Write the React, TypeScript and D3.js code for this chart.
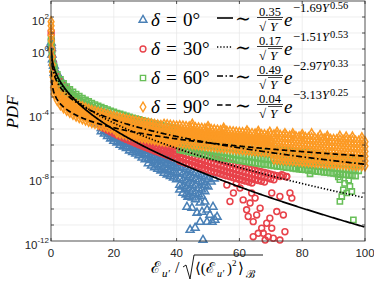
import React from "react";
import * as d3 from "d3";

const W = 374;
const H = 283;
const M = { left: 51, right: 365, top: 1, bottom: 241 };

// tick values
const xTicks = [0, 20, 40, 60, 80, 100];
const yLabelExps = [2, 0, -4, -8, -12];
const yGridExps = d3.range(-11, 3);

// series: rows of [x, log10(pdf) values ...]
const blueRows = [
  [0.05, 0.4, 0.2], [0.15, 0.05], [0.3, -0.35], [0.45, -0.65], [0.6, -0.85], [0.8, -1.05],
  [1, -1.05, -1.3, -1.5], [2, -1.55, -1.8, -2.0], [3, -1.9, -2.15, -2.35], [4, -2.2, -2.45, -2.65],
  [5, -2.45, -2.7, -2.9], [6, -2.7, -2.95, -3.15], [7, -2.9, -3.15, -3.4], [8, -3.1, -3.35, -3.55],
  [9, -3.3, -3.55, -3.75], [10, -3.45, -3.7, -3.95], [11, -3.65, -3.9, -4.1], [12, -3.8, -4.05, -4.25],
  [13, -3.95, -4.2, -4.4], [14, -4.1, -4.35, -4.6], [15, -4.25, -4.5, -4.7],
  [16, -4.45, -4.7, -4.95, -5.15], [17, -4.6, -4.85, -5.1, -5.3], [18, -4.7, -4.95, -5.2, -5.45],
  [19, -4.85, -5.1, -5.35, -5.6], [20, -4.95, -5.2, -5.5, -5.75], [21, -5.1, -5.35, -5.6, -5.85],
  [22, -5.2, -5.45, -5.75, -6.0], [23, -5.3, -5.6, -5.85, -6.1], [24, -5.45, -5.7, -5.95, -6.2],
  [25, -5.55, -5.8, -6.1, -6.35], [26, -5.65, -5.9, -6.2, -6.45], [27, -5.75, -6.0, -6.3, -6.55],
  [28, -5.85, -6.1, -6.4, -6.65], [29, -5.95, -6.25, -6.5, -6.8], [30, -6.05, -6.35, -6.6, -6.9],
  [31, -6.25, -6.55, -6.85, -7.15], [32, -6.35, -6.65, -6.95, -7.3], [33, -6.45, -6.75, -7.05, -7.4],
  [34, -6.55, -6.85, -7.2, -7.5], [35, -6.65, -6.95, -7.3, -7.6], [36, -6.75, -7.05, -7.4, -7.75],
  [37, -6.85, -7.15, -7.5, -7.85], [38, -6.95, -7.25, -7.6, -7.95], [39, -7.05, -7.35, -7.7, -8.05],
  [40, -7.15, -7.45, -7.8, -8.15], [41, -7.3, -7.7, -8.1, -8.5, -8.8], [42, -7.4, -7.8, -8.2, -8.6, -9.0],
  [43, -7.5, -7.9, -8.3, -8.7, -9.1], [44, -7.6, -8.0, -8.4, -8.8, -9.2], [45, -7.7, -8.1, -8.5, -8.9, -9.3],
  [46, -7.75, -8.15, -8.55, -9.0, -9.4], [47, -7.85, -8.25, -8.7, -9.1], [48, -7.95, -8.35, -8.8, -9.2],
  [49, -8.05, -8.5, -8.9], [50, -8.15, -8.6], [51, -8.3], [52, -8.1],
  [43.6, -9.24], [44.9, -9.93], [46.5, -10.24], [48.1, -10.18], [49.7, -10.05], [50.6, -10.37],
  [47.5, -10.81], [49.7, -10.81], [44.3, -11.31], [48.4, -11.94], [45.9, -11.18], [51.3, -10.81],
  [52.2, -10.68], [52.9, -10.49], [43.3, -9.87], [47.5, -9.61], [49.0, -9.55], [51.6, -9.87],
];

const redRows = [
  [0.05, 1.1, 0.9], [0.12, 0.6], [0.2, 0.2], [0.3, -0.15], [0.45, -0.5], [0.6, -0.8], [0.8, -1.1],
  [1, -1.3, -1.55, -1.75], [2, -1.72, -1.97, -2.17], [3, -2.03, -2.28, -2.48], [4, -2.3, -2.55, -2.75],
  [5, -2.5, -2.75, -2.95], [6, -2.7, -2.95, -3.15], [7, -2.88, -3.13, -3.33], [8, -3.05, -3.3, -3.5],
  [9, -3.2, -3.45, -3.65], [10, -3.35, -3.6, -3.8], [11, -3.48, -3.73, -3.93], [12, -3.6, -3.85, -4.05],
  [13, -3.72, -3.97, -4.17], [14, -3.85, -4.1, -4.3], [15, -3.96, -4.21, -4.41],
  [16, -4.12, -4.37, -4.62, -4.87], [17, -4.22, -4.47, -4.72, -4.97], [18, -4.33, -4.58, -4.83, -5.08],
  [19, -4.43, -4.68, -4.93, -5.18], [20, -4.53, -4.78, -5.03, -5.28], [21, -4.62, -4.87, -5.12, -5.37],
  [22, -4.72, -4.97, -5.22, -5.47], [23, -4.81, -5.06, -5.31, -5.56], [24, -4.9, -5.15, -5.4, -5.65],
  [25, -4.98, -5.23, -5.48, -5.73], [26, -5.07, -5.32, -5.57, -5.82], [27, -5.15, -5.4, -5.65, -5.9],
  [28, -5.23, -5.48, -5.73, -5.98], [29, -5.31, -5.56, -5.81, -6.06], [30, -5.39, -5.64, -5.89, -6.14],
  [31, -5.47, -5.72, -5.97, -6.22], [32, -5.54, -5.79, -6.04, -6.29], [33, -5.62, -5.87, -6.12, -6.37],
  [34, -5.69, -5.94, -6.19, -6.44], [35, -5.76, -6.01, -6.26, -6.51], [36, -5.83, -6.08, -6.33, -6.58],
  [37, -5.9, -6.15, -6.4, -6.65], [38, -5.97, -6.22, -6.47, -6.72], [39, -6.04, -6.29, -6.54, -6.79],
  [40, -6.1, -6.35, -6.6, -6.85], [41, -6.17, -6.47, -6.77, -7.02], [42, -6.23, -6.53, -6.83, -7.08],
  [43, -6.3, -6.6, -6.9, -7.15], [44, -6.36, -6.66, -6.96, -7.21], [45, -6.43, -6.73, -7.03, -7.28],
  [46, -6.49, -6.79, -7.09, -7.34], [47, -6.55, -6.85, -7.15, -7.4], [48, -6.61, -6.91, -7.21, -7.46],
  [49, -6.67, -6.97, -7.27, -7.52], [50, -6.73, -7.03, -7.33, -7.58], [51, -6.79, -7.09, -7.39, -7.64],
  [52, -6.85, -7.15, -7.45, -7.7], [53, -6.9, -7.2, -7.5, -7.75], [54, -6.96, -7.26, -7.56, -7.81],
  [55, -7.02, -7.32, -7.62, -7.87], [56, -7.08, -7.38, -7.68, -7.93], [57, -7.13, -7.43, -7.73, -7.98],
  [58, -7.19, -7.49, -7.79, -8.04], [59, -7.24, -7.54, -7.84, -8.09], [60, -7.3, -7.6, -7.9, -8.15],
  [61, -7.36, -7.66, -7.96, -8.21], [62, -7.41, -7.71, -8.01, -8.26], [63, -7.46, -7.76, -8.06, -8.31],
  [64, -7.52, -7.82, -8.12, -8.37], [65, -7.57, -7.87, -8.17], [66, -7.62, -7.92, -8.22],
  [67, -7.67, -7.97, -8.27], [68, -7.72, -8.02, -8.32], [69, -7.77, -8.07], [70, -7.82, -8.12],
  [71, -7.87, -8.17], [72, -7.92], [73, -7.97], [74, -7.9], [75, -8.0],
  [47.5, -7.23], [57.0, -9.53], [58.1, -9.0], [60.2, -8.69], [61.2, -9.43], [62.3, -10.05],
  [62.8, -10.47], [63.4, -9.63], [64.4, -10.79], [64.4, -11.73], [65.5, -10.37], [66.6, -9.95],
  [67.1, -11.2], [67.6, -11.52], [68.7, -10.89], [69.2, -11.73], [69.7, -10.58], [70.3, -11.2],
  [70.8, -11.83], [71.9, -10.16], [72.9, -11.94], [74.0, -10.37], [74.5, -11.42], [76.1, -9.0],
  [76.7, -9.32], [72.9, -9.22], [70.3, -9.0], [65.0, -9.32], [73.5, -7.86], [75.1, -7.96],
  [63.9, -9.0], [66.0, -11.52], [68.2, -11.94], [59.0, -8.4], [56.0, -8.5],
];

const greenRows = [
  [0.05, 0.6, 0.45], [0.15, 0.15], [0.3, -0.3], [0.5, -0.75], [0.7, -1.05], [0.85, -1.3],
  [1, -1.1, -1.35, -1.6, -1.8], [2, -1.58, -1.83, -2.08, -2.28], [3, -1.9, -2.15, -2.4, -2.6],
  [4, -2.15, -2.4, -2.65, -2.85], [5, -2.35, -2.6, -2.85, -3.05], [6, -2.53, -2.78, -3.03, -3.23],
  [7, -2.68, -2.93, -3.18, -3.38], [8, -2.82, -3.07, -3.32, -3.52], [9, -2.95, -3.2, -3.45, -3.65],
  [10, -3.07, -3.32, -3.57, -3.77], [11, -3.18, -3.43, -3.68, -3.88], [12, -3.28, -3.53, -3.78, -3.98],
  [13, -3.38, -3.63, -3.88, -4.08], [14, -3.47, -3.72, -3.97, -4.17], [15, -3.55, -3.8, -4.05, -4.25],
  [16, -3.63, -3.88, -4.13, -4.33], [17, -3.71, -3.96, -4.21, -4.41], [18, -3.79, -4.04, -4.29, -4.49],
  [19, -3.86, -4.11, -4.36, -4.56], [20, -3.93, -4.18, -4.43, -4.63], [21, -4.0, -4.25, -4.5, -4.7],
  [22, -4.06, -4.31, -4.56, -4.76], [23, -4.12, -4.37, -4.62, -4.82], [24, -4.18, -4.43, -4.68, -4.88],
  [25, -4.24, -4.49, -4.74, -4.94], [26, -4.3, -4.55, -4.8, -5.0], [27, -4.35, -4.6, -4.85, -5.05],
  [28, -4.4, -4.65, -4.9, -5.1], [29, -4.46, -4.71, -4.96, -5.16], [30, -4.51, -4.76, -5.01, -5.21],
  [31, -4.56, -4.81, -5.06, -5.26], [32, -4.61, -4.86, -5.11, -5.31], [33, -4.66, -4.91, -5.16, -5.36],
  [34, -4.7, -4.95, -5.2, -5.4], [35, -4.75, -5.0, -5.25, -5.45], [36, -4.8, -5.05, -5.3, -5.5],
  [37, -4.84, -5.09, -5.34, -5.54], [38, -4.88, -5.13, -5.38, -5.58], [39, -4.93, -5.18, -5.43, -5.63],
  [40, -4.97, -5.22, -5.47, -5.67], [41, -5.21, -5.61, -5.96, -6.31], [42, -5.25, -5.65, -6.0, -6.35],
  [43, -5.29, -5.69, -6.04, -6.39], [44, -5.33, -5.73, -6.08, -6.43], [45, -5.37, -5.77, -6.12, -6.47],
  [46, -5.41, -5.81, -6.16, -6.51], [47, -5.45, -5.85, -6.2, -6.55], [48, -5.48, -5.88, -6.23, -6.58],
  [49, -5.52, -5.92, -6.27, -6.62], [50, -5.55, -5.95, -6.3, -6.65], [51, -5.59, -5.99, -6.34, -6.69],
  [52, -5.62, -6.02, -6.37, -6.72], [53, -5.65, -6.05, -6.4, -6.75], [54, -5.69, -6.09, -6.44, -6.79],
  [55, -5.72, -6.12, -6.47, -6.82], [56, -5.75, -6.15, -6.5, -6.85], [57, -5.78, -6.18, -6.53, -6.88],
  [58, -5.82, -6.22, -6.57, -6.92], [59, -5.85, -6.25, -6.6, -6.95], [60, -5.88, -6.28, -6.63, -6.98],
  [61, -5.91, -6.31, -6.66, -7.01], [62, -5.94, -6.34, -6.69, -7.04], [63, -5.97, -6.37, -6.72, -7.07],
  [64, -6.0, -6.4, -6.75, -7.1], [65, -6.03, -6.43, -6.78, -7.13], [66, -6.06, -6.46, -6.81, -7.16],
  [67, -6.09, -6.49, -6.84, -7.19], [68, -6.12, -6.52, -6.87, -7.22], [69, -6.14, -6.54, -6.89, -7.24],
  [70, -6.17, -6.57, -6.92, -7.27], [71, -6.2, -6.6, -6.95, -7.3], [72, -6.23, -6.63, -6.98, -7.33],
  [73, -6.25, -6.65, -7.0, -7.35], [74, -6.28, -6.68, -7.03, -7.38], [75, -6.31, -6.71, -7.06, -7.41],
  [76, -6.33, -6.73, -7.08, -7.43], [77, -6.36, -6.76, -7.11, -7.46], [78, -6.39, -6.79, -7.14, -7.49],
  [79, -6.41, -6.81, -7.16, -7.51], [80, -6.44, -6.84, -7.19, -7.54], [81, -6.46, -6.86, -7.21, -7.56],
  [82, -6.49, -6.89, -7.24, -7.59], [83, -6.51, -6.91, -7.26, -7.61], [84, -6.54, -6.94, -7.29, -7.64],
  [85, -6.56, -6.96, -7.31, -7.66], [86, -6.58, -6.98, -7.33, -7.68], [87, -6.61, -7.01, -7.36, -7.71],
  [88, -6.63, -7.03, -7.38, -7.73], [89, -6.66, -7.06, -7.41, -7.76], [90, -6.68, -7.08, -7.43, -7.78],
  [91, -6.7, -7.1, -7.45, -7.8], [92, -6.73, -7.13, -7.48, -7.83], [93, -6.75, -7.15, -7.5, -7.85],
  [94, -6.77, -7.17, -7.52, -7.87], [95, -6.8, -7.2, -7.55, -7.9], [96, -6.82, -7.22, -7.57, -7.92],
  [97, -6.84, -7.24, -7.59, -7.94], [98, -6.86, -7.26, -7.61],
  [92.0, -8.17], [93.1, -8.8], [92.6, -9.22], [94.2, -9.0], [95.2, -8.59], [92.0, -9.53],
  [96.3, -10.68], [93.5, -8.4], [94.8, -8.2], [91.5, -8.0], [95.8, -8.9], [79.3, -7.5], [82.5, -7.8],
];

const orangeRows = [
  [0.03, 1.7, 1.45], [0.08, 1.15, 0.85], [0.15, 0.5], [0.22, 0.0], [0.3, -0.5], [0.4, -1.0],
  [0.5, -1.4], [0.65, -1.75], [0.8, -2.05, -2.4],
  [1, -2.06, -2.31, -2.56, -2.81], [2, -2.46, -2.71, -2.96, -3.21], [3, -2.73, -2.98, -3.23, -3.48],
  [4, -2.92, -3.17, -3.42, -3.67], [5, -3.08, -3.33, -3.58, -3.83], [6, -3.21, -3.46, -3.71, -3.96],
  [7, -3.33, -3.58, -3.83, -4.08], [8, -3.44, -3.69, -3.94, -4.19], [9, -3.53, -3.78, -4.03, -4.28],
  [10, -3.61, -3.86, -4.11, -4.36], [11, -3.69, -3.94, -4.19, -4.44], [12, -3.77, -4.02, -4.27, -4.52],
  [13, -3.84, -4.09, -4.34, -4.59], [14, -3.9, -4.15, -4.4, -4.65], [15, -3.96, -4.21, -4.46, -4.71],
  [16, -4.01, -4.26, -4.51, -4.76], [17, -4.07, -4.32, -4.57, -4.82], [18, -4.12, -4.37, -4.62, -4.87],
  [19, -4.17, -4.42, -4.67, -4.92], [20, -4.22, -4.47, -4.72, -4.97],
  [21, -4.26, -4.51, -4.76, -5.01, -5.21], [22, -4.31, -4.56, -4.81, -5.06, -5.26],
  [23, -4.35, -4.6, -4.85, -5.1, -5.3], [24, -4.4, -4.65, -4.9, -5.15, -5.35],
  [25, -4.44, -4.69, -4.94, -5.19, -5.39], [26, -4.48, -4.73, -4.98, -5.23, -5.43],
  [27, -4.51, -4.76, -5.01, -5.26, -5.46], [28, -4.55, -4.8, -5.05, -5.3, -5.5],
  [29, -4.58, -4.83, -5.08, -5.33, -5.53], [30, -4.62, -4.87, -5.12, -5.37, -5.57],
  [31, -4.65, -4.9, -5.15, -5.4, -5.6], [32, -4.68, -4.93, -5.18, -5.43, -5.63],
  [33, -4.72, -4.97, -5.22, -5.47, -5.67], [34, -4.75, -5.0, -5.25, -5.5, -5.7],
  [35, -4.78, -5.03, -5.28, -5.53, -5.73], [36, -4.71, -5.06, -5.31, -5.56, -5.76],
  [37, -4.74, -5.09, -5.34, -5.59, -5.79], [38, -4.77, -5.12, -5.37, -5.62, -5.82],
  [39, -4.79, -5.14, -5.39, -5.64, -5.84], [40, -4.82, -5.17, -5.42, -5.67, -5.87],
  [41, -4.8, -5.1, -5.25, -5.55, -5.85], [42, -4.82, -5.12, -5.27, -5.57, -5.87],
  [43, -4.85, -5.15, -5.3, -5.6, -5.9], [44, -4.87, -5.17, -5.32, -5.62, -5.92],
  [45, -4.9, -5.2, -5.35, -5.65, -5.95], [46, -4.92, -5.22, -5.37, -5.67, -5.97],
  [47, -4.94, -5.24, -5.39, -5.69, -5.99], [48, -4.96, -5.26, -5.41, -5.71, -6.01],
  [49, -4.99, -5.29, -5.44, -5.74, -6.04], [50, -5.01, -5.31, -5.46, -5.76, -6.06],
  [51, -5.03, -5.33, -5.48, -5.78, -6.08], [52, -5.05, -5.35, -5.5, -5.8, -6.1],
  [53, -5.07, -5.37, -5.52, -5.82, -6.12], [54, -5.1, -5.4, -5.55, -5.85, -6.15],
  [55, -5.12, -5.42, -5.57, -5.87, -6.17], [56, -5.14, -5.44, -5.59, -5.89, -6.19],
  [57, -5.16, -5.46, -5.61, -5.91, -6.21], [58, -5.18, -5.48, -5.63, -5.93, -6.23],
  [59, -5.2, -5.5, -5.65, -5.95, -6.25], [60, -5.22, -5.52, -5.67, -5.97, -6.27],
  [61, -5.24, -5.54, -5.69, -5.99, -6.29], [62, -5.26, -5.56, -5.71, -6.01, -6.31],
  [63, -5.27, -5.57, -5.72, -6.02, -6.32], [64, -5.29, -5.59, -5.74, -6.04, -6.34],
  [65, -5.31, -5.61, -5.76, -6.06, -6.36], [66, -5.33, -5.63, -5.78, -6.08, -6.38],
  [67, -5.35, -5.65, -5.8, -6.1, -6.4], [68, -5.36, -5.66, -5.81, -6.11, -6.41],
  [69, -5.38, -5.68, -5.83, -6.13, -6.43], [70, -5.4, -5.7, -5.85, -6.15, -6.45],
  [71, -5.37, -5.67, -5.97, -6.27, -6.57, -6.87], [72, -5.39, -5.69, -5.99, -6.29, -6.59, -6.89],
  [73, -5.4, -5.7, -6.0, -6.3, -6.6, -6.9], [74, -5.42, -5.72, -6.02, -6.32, -6.62, -6.92],
  [75, -5.44, -5.74, -6.04, -6.34, -6.64, -6.94], [76, -5.45, -5.75, -6.05, -6.35, -6.65, -6.95],
  [77, -5.47, -5.77, -6.07, -6.37, -6.67, -6.97], [78, -5.49, -5.79, -6.09, -6.39, -6.69, -6.99],
  [79, -5.5, -5.8, -6.1, -6.4, -6.7, -7.0], [80, -5.52, -5.82, -6.12, -6.42, -6.72, -7.02],
  [81, -5.53, -5.83, -6.13, -6.43, -6.73, -7.03], [82, -5.55, -5.85, -6.15, -6.45, -6.75, -7.05],
  [83, -5.56, -5.86, -6.16, -6.46, -6.76, -7.06], [84, -5.58, -5.88, -6.18, -6.48, -6.78, -7.08],
  [85, -5.59, -5.89, -6.19, -6.49, -6.79, -7.09], [86, -5.6, -5.9, -6.2, -6.5, -6.8, -7.1],
  [87, -5.62, -5.92, -6.22, -6.52, -6.82, -7.12], [88, -5.63, -5.93, -6.23, -6.53, -6.83, -7.13],
  [89, -5.65, -5.95, -6.25, -6.55, -6.85, -7.15], [90, -5.66, -5.96, -6.26, -6.56, -6.86, -7.16],
  [91, -5.67, -5.97, -6.27, -6.57, -6.87, -7.17], [92, -5.69, -5.99, -6.29, -6.59, -6.89, -7.19],
  [93, -5.7, -6.0, -6.3, -6.6, -6.9, -7.2], [94, -5.72, -6.02, -6.32, -6.62, -6.92, -7.22],
  [95, -5.73, -6.03, -6.33, -6.63, -6.93, -7.23], [96, -5.74, -6.04, -6.34, -6.64, -6.94, -7.24],
  [97, -5.76, -6.06, -6.36, -6.66, -6.96, -7.26], [98, -5.77, -6.07, -6.37, -6.67, -6.97, -7.27],
  [99, -5.78, -6.08, -6.38, -6.68, -6.98, -7.28], [100, -5.8, -6.1, -6.4, -6.7, -7.0, -7.3],
  [45, -4.7], [50, -4.85], [55, -4.95], [62.4, -5.12], [66, -5.15], [69.7, -5.2], [72, -5.2],
  [74.5, -5.3], [77, -5.3], [80, -5.35], [83, -5.3], [85.7, -5.4], [88, -5.45], [92, -5.45],
  [94, -5.5], [96, -5.5], [99, -5.55],
];

// fit parameters: a / sqrt(Y) * exp(-b * Y^c)
const angles = ["0", "30", "60", "90"];
const fitA = [0.35, 0.17, 0.49, 0.04];
const fitB = [1.69, 1.51, 2.97, 3.13];
const fitC = [0.56, 0.53, 0.33, 0.25];

const colors = ["#4A80B6", "#E8424A", "#68BF58", "#FC9A24"];
const symbols = [d3.symbolTriangle, d3.symbolCircle, d3.symbolSquare, d3.symbolDiamond];
const symSizes = [27, 27, 27, 28];
const dashes = [undefined, "1.3 1.9", "6 2.5 1.5 2.5", "5.5 3"];
const rowsAll = [blueRows, redRows, greenRows, orangeRows];

const x = d3.scaleLinear().domain([0, 100]).range([M.left, M.right]);
const y = d3.scaleLog().domain([1e-12, 1e3]).range([M.bottom, M.top]);

const fitGrid = d3.range(0, 400).map((i) => 0.05 + i * 0.25);

const axisColor = "#262626";
const serif = "'Liberation Serif', 'DejaVu Serif', serif";
const sans = "'Liberation Sans', Arial, sans-serif";

function LegendRow({ i }: { i: number }) {
  const cy = 20 + i * 29;
  const path = d3.symbol().type(symbols[i]).size(symSizes[i])();
  return (
    <g>
      <path d={path!} transform={`translate(143,${cy})`} fill="none" stroke={colors[i]} strokeWidth={1.4} />
      <text x={151} y={cy + 6} fontFamily={serif} fontSize={19} fill="#000">
        <tspan fontStyle="italic">δ</tspan>
        <tspan x={166}>=</tspan>
        <tspan x={183}>{angles[i]}°</tspan>
      </text>
      <line x1={217} x2={233} y1={cy - 2} y2={cy - 2} stroke="#000" strokeWidth={1.6} strokeDasharray={dashes[i]} />
      <text x={235} y={cy + 5} fontFamily={serif} fontSize={19}>∼</text>
      <text x={270} y={cy - 4.5} fontFamily={serif} fontSize={12.5} textAnchor="middle">
        {fitA[i].toFixed(2)}
      </text>
      <line x1={257} x2={283} y1={cy - 2.5} y2={cy - 2.5} stroke="#000" strokeWidth={0.8} />
      <text x={259} y={cy + 11} fontFamily={serif} fontSize={13}>√</text>
      <line x1={268} x2={282} y1={cy - 0.5} y2={cy - 0.5} stroke="#000" strokeWidth={0.7} />
      <text x={270} y={cy + 11} fontFamily={serif} fontSize={13} fontStyle="italic">Y</text>
      <text x={284} y={cy + 6} fontFamily={serif} fontSize={19} fontStyle="italic">e</text>
      <text x={293} y={cy - 8} fontFamily={serif} fontSize={12.5}>
        {`\u2212${fitB[i].toFixed(2)}`}
        <tspan fontStyle="italic">Y</tspan>
        <tspan dx={1} dy={-3.5} fontSize={10.5}>
          {fitC[i].toFixed(2)}
        </tspan>
      </text>
    </g>
  );
}

export default function App() {
  const fitPaths = fitA.map((a, i) =>
    d3
      .line<number>()
      .x((d) => x(d))
      .y((d) => y(Math.max(1e-13, (a / Math.sqrt(d)) * Math.exp(-fitB[i] * Math.pow(d, fitC[i])))))(fitGrid)
  );

  return (
    <svg width={W} height={H} style={{ position: "absolute", left: 0, top: 0, background: "#fff" }}>
      <defs>
        <clipPath id="plot">
          <rect x={M.left} y={M.top} width={M.right - M.left} height={M.bottom - M.top} />
        </clipPath>
      </defs>
      <rect x={0} y={0} width={W} height={H} fill="#fff" />
      {/* grid */}
      {yGridExps.map((e) => (
        <line key={`gy${e}`} x1={M.left} x2={M.right} y1={y(Math.pow(10, e))} y2={y(Math.pow(10, e))} stroke="#e6e6e6" strokeWidth={0.7} />
      ))}
      {xTicks.slice(1, -1).map((t) => (
        <line key={`gx${t}`} x1={x(t)} x2={x(t)} y1={M.top} y2={M.bottom} stroke="#e6e6e6" strokeWidth={0.7} />
      ))}
      {/* scatter */}
      {rowsAll.map((rows, i) => {
        const sym = d3.symbol().type(symbols[i]).size(symSizes[i])()!;
        const pts = rows.flatMap(([xv, ...vs]) => vs.map((v) => [xv, Math.pow(10, v)]));
        return (
          <g key={`s${i}`} fill="none" stroke={colors[i]} strokeWidth={1.55}>
            {pts.map(([xv, pv], k) => (
              <path key={k} d={sym} transform={`translate(${x(xv).toFixed(2)},${y(pv).toFixed(2)})`} />
            ))}
          </g>
        );
      })}
      {/* fits */}
      <g clipPath="url(#plot)">
        {fitPaths.map((d, i) => (
          <path key={`f${i}`} d={d!} fill="none" stroke="#000" strokeWidth={1.7} strokeDasharray={dashes[i]} />
        ))}
      </g>
      {/* axes box */}
      <rect x={M.left} y={M.top} width={M.right - M.left} height={M.bottom - M.top} fill="none" stroke={axisColor} strokeWidth={0.8} />
      {yGridExps.map((e) => (
        <g key={`ty${e}`}>
          <line x1={M.left} x2={M.left + 3} y1={y(Math.pow(10, e))} y2={y(Math.pow(10, e))} stroke={axisColor} strokeWidth={0.8} />
          <line x1={M.right - 3} x2={M.right} y1={y(Math.pow(10, e))} y2={y(Math.pow(10, e))} stroke={axisColor} strokeWidth={0.8} />
        </g>
      ))}
      {xTicks.map((t) => (
        <g key={`tx${t}`}>
          <line x1={x(t)} x2={x(t)} y1={M.bottom} y2={M.bottom - 3} stroke={axisColor} strokeWidth={0.8} />
          <line x1={x(t)} x2={x(t)} y1={M.top} y2={M.top + 3} stroke={axisColor} strokeWidth={0.8} />
          <text x={x(t)} y={257} textAnchor="middle" fontFamily={sans} fontSize={11.5} fill={axisColor}>
            {t}
          </text>
        </g>
      ))}
      {yLabelExps.map((e) => {
        const ty = y(Math.pow(10, e));
        return (
          <text key={`ly${e}`} x={49} y={ty + 8} textAnchor="end" fontFamily={sans} fontSize={11.5} fill={axisColor}>
            10
            <tspan dy={-6} fontSize={8}>
              {e < 0 ? `-${-e}` : `${e}`}
            </tspan>
          </text>
        );
      })}
      {/* axis labels */}
      <text
        transform="translate(18,112) rotate(-90)"
        textAnchor="middle"
        fontFamily={serif}
        fontStyle="italic"
        fontSize={17}
      >
        PDF
      </text>
      <g fontFamily={serif} fill="#000">
        <text x={151} y={273} fontSize={16}>ℰ</text>
        <text x={162} y={277} fontSize={11} fontStyle="italic">u′</text>
        <text x={175} y={273} fontSize={16}>/</text>
        <path d="M183,267 L186,265 L190,279 L194,255 L263,255" fill="none" stroke="#000" strokeWidth={0.9} />
        <text x={195} y={273} fontSize={15}>⟨(ℰ</text>
        <text x={217} y={277} fontSize={10} fontStyle="italic">u′</text>
        <text x={227} y={273} fontSize={15}>)</text>
        <text x={232} y={266} fontSize={9}>2</text>
        <text x={238} y={273} fontSize={15}>⟩</text>
        <text x={246} y={278} fontSize={11}>ℬ</text>
      </g>
      {/* legend */}
      {angles.map((_, i) => (
        <LegendRow key={`lg${i}`} i={i} />
      ))}
    </svg>
  );
}
